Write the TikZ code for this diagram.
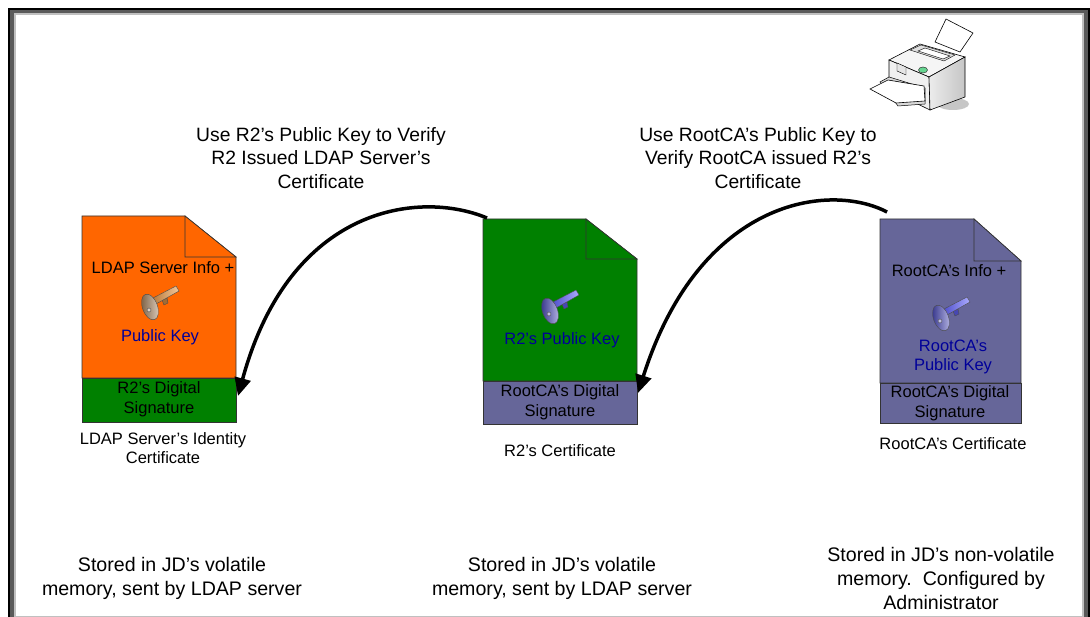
\documentclass[tikz,border=0pt]{standalone}
\usepackage{fontspec}
\setmainfont{Liberation Sans}
\usetikzlibrary{arrows.meta}

\definecolor{ldaporange}{RGB}{255,102,0}
\definecolor{certgreen}{RGB}{0,128,0}
\definecolor{certpurple}{RGB}{102,102,153}
\definecolor{keyblue}{RGB}{0,0,153}
\definecolor{framedark}{RGB}{90,90,90}
\definecolor{framelight}{RGB}{192,192,192}

% straight apostrophe
\newcommand\sq{\char"0027\relax}

% draws a key: bow centred at (#1,#2); #3 = bow colour, #4 = blade colour
\newcommand\drawkey[4]{%
  \begin{scope}[shift={(#1,#2)}]
    \fill[#4!70!black, draw=black!70, line width=0.4pt]
      (12,-7) -- (14,-2) -- (18,-4) -- (17,-9) -- cycle;
    \shade[left color=#4!80!black, right color=#4!55!white, draw=black!70, line width=0.4pt]
      (3,-9) -- (26,-21) -- (29,-16) -- (6,-3) -- cycle;
    \shade[left color=#3!75!black, right color=#3!40!white, draw=black!70, line width=0.4pt]
      (0,0) ellipse [x radius=7.5, y radius=13.5, rotate=20];
    \fill[#3!35!white, draw=black!70, line width=0.4pt] (-1,3) circle [radius=2];
  \end{scope}}

\tikzset{
  docline/.style={draw=black!80, line width=0.7pt},
  headtext/.style={font=\fontsize{19.3}{23.5}\selectfont, align=center},
  doctext/.style={font=\fontsize{16.5}{19.5}\selectfont, align=center},
  captext/.style={font=\fontsize{16.5}{19.5}\selectfont, align=center},
  foottext/.style={font=\fontsize{19.6}{24}\selectfont, align=center},
  verify/.style={line width=3.5pt, -{Triangle[length=18pt,width=16pt]}},
}

\begin{document}
\begin{tikzpicture}[x=1pt, y=-1pt]
  \useasboundingbox (0,0) rectangle (1090,617);
  \fill[white] (0,0) rectangle (1090,617);

  % shadowed frame
  \fill[black] (8,8) rectangle (1090,10);
  \fill[black] (8,8) rectangle (10,617);
  \fill[black] (1088,8) rectangle (1090,617);
  \fill[framedark] (10,10) rectangle (1088,13.3);
  \fill[framedark] (10,10) rectangle (14,617);
  \fill[framedark] (1083.7,10) rectangle (1088,617);
  \fill[framelight] (14,13.3) rectangle (1083.7,15);
  \fill[framelight] (14,13.3) rectangle (16,617);
  \fill[framelight] (1082.3,13.3) rectangle (1083.7,617);
  \fill[framelight] (16,615.5) rectangle (1082.3,617);

  % printer
  \fill[gray!45] (953,104) ellipse [x radius=16, y radius=6];
  \fill[white, draw=black, line width=0.6pt] (935,42) -- (946,19) -- (973,33) -- (960,52) -- cycle;
  \fill[gray!8, draw=black, line width=0.6pt] (889,60) -- (920,44) -- (965,57) -- (929,77) -- cycle;
  \fill[gray!25, draw=black, line width=0.4pt] (910,50) -- (921,45) -- (955,55) -- (944,61) -- cycle;
  \fill[white, draw=black, line width=0.4pt] (918,51) -- (925,48) -- (950,56) -- (943,59) -- cycle;
  \fill[gray!12, draw=black, line width=0.6pt] (889,60) -- (929,77) -- (930,110) -- (889,90) -- cycle;
  \shade[left color=gray!15, right color=gray!45, draw=black, line width=0.6pt]
    (929,77) -- (965,57) -- (965,97) -- (930,110) -- cycle;
  \fill[gray!20, draw=black, line width=0.4pt] (897,63) -- (906,67) -- (906,75) -- (897,71) -- cycle;
  \fill[gray!30, draw=black, line width=0.5pt] (880,82) -- (889,77) -- (925,88) -- (925,104) -- (898,106) -- cycle;
  \fill[white, draw=black, line width=0.6pt] (870,89) -- (888,80) -- (924,86) -- (925,101) -- (896,103) -- cycle;
  \fill[green!45!teal!60, draw=black!80, line width=0.5pt] (923,70) ellipse [x radius=4.5, y radius=3];

  % LDAP server certificate
  \path[fill=ldaporange, docline] (82,216) -- (185,216) -- (236,257) -- (236,378) -- (82,378) -- cycle;
  \path[fill=ldaporange, docline] (185,216) -- (185,257) -- (236,257) -- cycle;
  \path[fill=certgreen, docline] (82,378) rectangle (236,422);
  \node[doctext] (ldapinfo) at (163,268) {LDAP Server Info +};
  \drawkey{150}{307}{brown!60!gray}{orange!55!brown!80!white}
  \node[doctext, text=keyblue] (ldapkey) at (160,337) {Public Key};
  \node[doctext] (ldapsig) at (159,399) {R2’s Digital\\Signature};
  \node[captext] (ldapcap) at (163,448) {LDAP Server’s Identity\\Certificate};

  % R2 certificate
  \path[fill=certgreen, docline] (483,219) -- (586,219) -- (637,259) -- (637,381) -- (483,381) -- cycle;
  \path[fill=certgreen, docline] (586,219) -- (586,259) -- (637,259) -- cycle;
  \path[fill=certpurple, docline] (483,381) rectangle (637,424);
  \drawkey{550}{311}{blue!45!gray}{blue!60!white}
  \node[doctext, text=keyblue] (r2key) at (562,340) {R2’s Public Key};
  \node[doctext] (r2sig) at (560,402) {RootCA’s Digital\\Signature};
  \node[captext] (r2cap) at (560,451) {R2\sq s Certificate};

  % RootCA certificate
  \path[fill=certpurple, docline] (880,219) -- (974,219) -- (1021,261) -- (1021,383) -- (880,383) -- cycle;
  \path[fill=certpurple, docline] (974,219) -- (974,261) -- (1021,261) -- cycle;
  \path[fill=certpurple, docline] (880,383) rectangle (1021,423);
  \node[doctext] (rootinfo) at (949,271) {RootCA’s Info +};
  \drawkey{941}{318}{blue!45!gray}{blue!60!white}
  \node[doctext, text=keyblue] (rootkey) at (953,357) {RootCA’s\\Public Key};
  \node[doctext] (rootsig) at (950,403) {RootCA’s Digital\\Signature};
  \node[captext] (rootcap) at (953,444) {RootCA’s Certificate};

  % verification arrows
  \coordinate (r2corner) at (487,218);
  \coordinate (ldapend) at (238,396);
  \coordinate (rootcorner) at (887,212);
  \coordinate (r2end) at (638,393);
  \draw[verify] (r2corner) .. controls (420,190) and (290,205) .. (ldapend);
  \draw[verify] (rootcorner) .. controls (830,182) and (700,198) .. (r2end);

  \node[headtext] (verifyldap) at (321,158) {Use R2\sq s Public Key to Verify\\R2 Issued LDAP Server’s\\Certificate};
  \node[headtext] (verifyr2) at (758,158) {Use RootCA’s Public Key to\\Verify RootCA issued R2\sq s\\Certificate};

  % storage notes
  \node[foottext] (storeldap) at (172,578) {Stored in JD’s volatile\\memory, sent by LDAP server};
  \node[foottext] (storer2) at (562,578) {Stored in JD’s volatile\\memory, sent by LDAP server};
  \node[foottext] (storeroot) at (941,578) {Stored in JD’s non-volatile\\memory.\ \ Configured by\\Administrator};
\end{tikzpicture}
\end{document}
